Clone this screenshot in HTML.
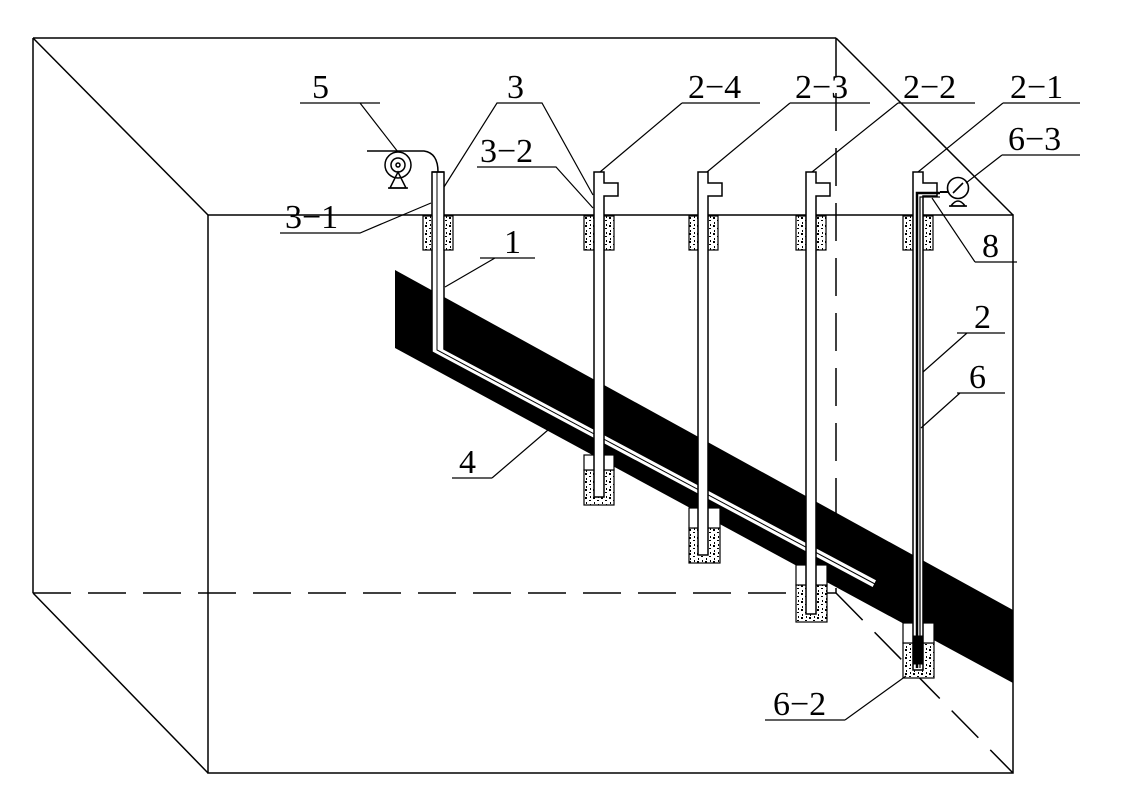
<!DOCTYPE html>
<html><head><meta charset="utf-8"><style>
html,body{margin:0;padding:0;background:#fff;}
svg{display:block;}
text{font-family:"Liberation Serif",serif;font-size:34px;fill:#000;}
</style></head><body>
<svg width="1125" height="792" viewBox="0 0 1125 792" xmlns="http://www.w3.org/2000/svg">
<defs>
<pattern id="conc" width="8" height="8" patternUnits="userSpaceOnUse">
<rect width="8" height="8" fill="#fff"/>
<path d="M1 1h2v2h-2zM5 4h2v1h-2zM2 6h1v2h-1zM6 0h1v2h-1z" fill="#000"/>
</pattern>
</defs>
<g stroke="#000" stroke-width="1.5" fill="none">
<rect x="208" y="215" width="805" height="558"/>
<line x1="33" y1="38" x2="836" y2="38"/>
<line x1="33" y1="38" x2="33" y2="593"/>
<line x1="33" y1="38" x2="208" y2="215"/>
<line x1="836" y1="38" x2="1013" y2="215"/>
<line x1="33" y1="593" x2="208" y2="773"/>
<g stroke-dasharray="38,17">
<line x1="33" y1="593" x2="836" y2="593"/>
<line x1="836" y1="38" x2="836" y2="593"/>
<line x1="836" y1="593" x2="1013" y2="773"/>
</g>
</g>
<polygon points="395,270 1013,610 1013,683 395,348" fill="#000"/>
<g stroke="#000" stroke-width="1.5">
<path d="M432,172 V352 L873,588 L877,580 L444,349 V172 Z" fill="#fff"/>
<path d="M437,172 V350 L875,584" fill="none" stroke-width="1"/>
<path d="M432,172 h12" />
</g>
<g stroke="#000" stroke-width="1.2" fill="url(#conc)">
<rect x="423" y="216" width="9" height="34"/><rect x="444" y="216" width="9" height="34"/>
<rect x="584" y="216" width="10" height="34"/><rect x="604" y="216" width="10" height="34"/>
<rect x="689" y="216" width="9" height="34"/><rect x="708" y="216" width="10" height="34"/>
<rect x="796" y="216" width="10" height="34"/><rect x="816" y="216" width="10" height="34"/>
<rect x="903" y="216" width="10" height="34"/><rect x="923" y="216" width="10" height="34"/>
<rect x="584" y="470" width="30" height="35"/>
<rect x="689" y="528" width="31" height="35"/>
<rect x="796" y="585" width="31" height="37"/>
<rect x="903" y="643" width="31" height="35"/>
</g>
<g stroke="#000" stroke-width="1.2" fill="#fff">
<rect x="584" y="455" width="30" height="15"/>
<rect x="689" y="508" width="31" height="20"/>
<rect x="796" y="565" width="31" height="20"/>
<rect x="903" y="623" width="31" height="20"/>
</g>
<g stroke="#000" stroke-width="1.5" fill="#fff">
<path d="M594,172 H604 V183 H618 V196 H604 V497 H594 Z"/>
<path d="M698,172 H708 V183 H722 V196 H708 V555 H698 Z"/>
<path d="M806,172 H816 V183 H830 V196 H816 V614 H806 Z"/>
<path d="M913,172 H923 V183 H937 V196 H923 V670 H913 Z"/>
</g>
<g stroke="#000" fill="none">
<path d="M917,668 V193 H940" stroke-width="2.5"/>
<path d="M920,668 V197 H940" stroke-width="1.2"/>
<rect x="914" y="636" width="9" height="28" fill="#000"/>
<line x1="940" y1="192" x2="948" y2="192" stroke-width="2"/>
</g>
<g stroke="#000" stroke-width="1.6" fill="#fff">
<circle cx="958" cy="188" r="10.5"/>
<path d="M951,206 q7,-10 14,0 z"/>
<line x1="949" y1="206" x2="967" y2="206"/>
<line x1="953" y1="193" x2="963" y2="183"/>
</g>
<g stroke="#000" stroke-width="1.5" fill="none">
<circle cx="398" cy="165" r="13"/>
<circle cx="398" cy="165" r="7"/>
<circle cx="398" cy="165" r="2"/>
<path d="M390,188 L398,172 L406,188 Z"/>
<line x1="388" y1="188" x2="408" y2="188"/>
<path d="M367,151 H424 Q438,153 438,172"/>
</g>
<g stroke="#000" stroke-width="1.2" fill="none">
<path d="M300,103 H380 M360,103 L398,152"/>
<path d="M444,187 L497,103 H542 L593,195"/>
<path d="M682,103 H760 M682,103 L600,172"/>
<path d="M790,103 H870 M790,103 L707,172"/>
<path d="M898,103 H975 M898,103 L812,172"/>
<path d="M1003,103 H1080 M1003,103 L918,172"/>
<path d="M1002,155 H1080 M1002,155 L966,183"/>
<path d="M975,262 H1017 M975,262 L932,198"/>
<path d="M477,167 H556 L593,208"/>
<path d="M280,233 H360 L431,203"/>
<path d="M480,258 H535 M495,258 L445,287"/>
<path d="M957,333 H1005 M967,333 L923,372"/>
<path d="M957,393 H1005 M960,393 L921,428"/>
<path d="M452,478 H492 M492,478 L548,430"/>
<path d="M765,720 H845 M845,720 L906,676"/>
</g>
<text x="312" y="98">5</text>
<text x="507" y="98">3</text>
<text x="688" y="98">2−4</text>
<text x="795" y="98">2−3</text>
<text x="903" y="98">2−2</text>
<text x="1010" y="98">2−1</text>
<text x="1008" y="150">6−3</text>
<text x="480" y="162">3−2</text>
<text x="285" y="228">3−1</text>
<text x="504" y="253">1</text>
<text x="982" y="257">8</text>
<text x="974" y="328">2</text>
<text x="969" y="388">6</text>
<text x="459" y="473">4</text>
<text x="773" y="715">6−2</text>
</svg>
</body></html>
